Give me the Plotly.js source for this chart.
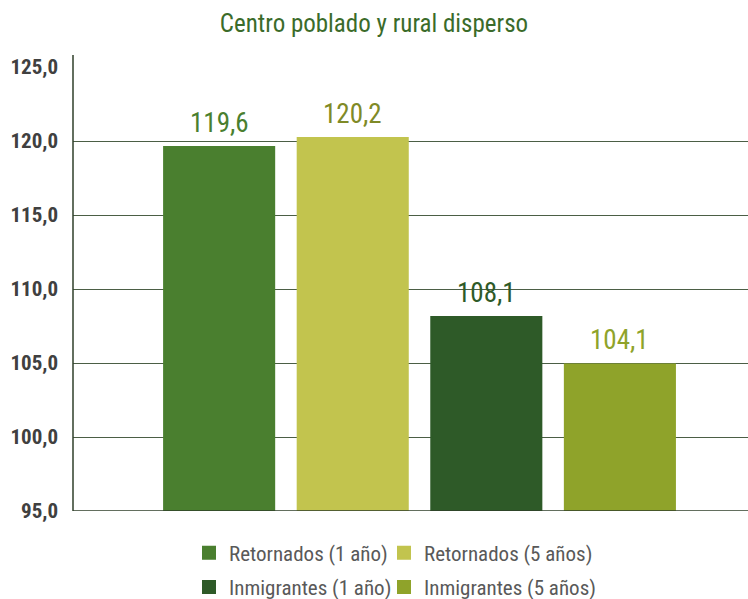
<!DOCTYPE html>
<html>
<head>
<meta charset="utf-8">
<script src="https://cdn.plot.ly/plotly-3.0.1.min.js"></script>
<style>html,body{margin:0;padding:0;background:#fff;}#chart{width:748px;height:599px;}</style>
</head>
<body>
<div id="chart"></div>
<script>
var seriesNames = ["Retornados (1 año)", "Retornados (5 años)", "Inmigrantes (1 año)", "Inmigrantes (5 años)"];
var categories = ["c1", "c2", "c3", "c4"];
var values = [119.6, 120.2, 108.1, 104.9];
var valueLabels = ["119,6", "120,2", "108,1", "104,1"];
var barColors = ["#4a7f2f", "#c2c44e", "#2e5a28", "#8fa32a"];
var labelColors = ["#4a7f2f", "#7f8a27", "#2e5a28", "#8fa32a"];
var legendColumn = ["legend", "legend2", "legend", "legend2"];
var yTicks = [95, 100, 105, 110, 115, 120, 125];

var FONT = "'Roboto Condensed', 'Liberation Sans Narrow', 'DejaVu Sans Condensed', 'Arial Narrow', sans-serif";

var traces = seriesNames.map(function (name, i) {
  return {
    type: "bar",
    name: name,
    x: [categories[i]],
    y: [values[i]],
    cliponaxis: true,
    marker: {color: barColors[i], line: {color: barColors[i], width: 2}},
    legend: legendColumn[i],
    legendgroup: "g" + i,
    hoverinfo: "skip"
  };
});

var annotations = categories.map(function (c, i) {
  return {
    x: c, y: values[i], xref: "x", yref: "y",
    text: valueLabels[i],
    showarrow: false,
    xanchor: "center", yanchor: "bottom",
    yshift: 6,
    font: {family: FONT, size: 27, color: labelColors[i]}
  };
});

function legendBox(xpx) {
  return {
    orientation: "v",
    traceorder: "grouped",
    tracegroupgap: 4,
    xref: "container", x: xpx / 748, xanchor: "left",
    yref: "container", y: (599 - 570) / 599, yanchor: "middle",
    font: {family: FONT, size: 21, color: "#595959"},
    bgcolor: "rgba(0,0,0,0)"
  };
}

var layout = {
  width: 748,
  height: 599,
  margin: {l: 73, r: 0, t: 67, b: 88, autoexpand: false},
  paper_bgcolor: "#ffffff",
  plot_bgcolor: "#ffffff",
  separators: ",.",
  barmode: "overlay",
  bargap: 0.176,
  showlegend: true,
  title: {
    text: "Centro poblado y rural disperso",
    font: {family: FONT, size: 25, color: "#3b6b2a"},
    x: 0.5, xref: "container", xanchor: "center",
    y: 1 - 23 / 599, yref: "container", yanchor: "middle"
  },
  xaxis: {
    type: "category",
    range: [-1.094, 3.959],
    showticklabels: false,
    showgrid: false,
    zeroline: false,
    showline: false,
    ticks: ""
  },
  yaxis: {
    range: [95, 125],
    tickvals: yTicks,
    tickformat: ".1f",
    tickfont: {family: FONT, size: 21, color: "#404040", weight: "bold"},
    showgrid: true,
    gridcolor: "#4b5e45",
    gridwidth: 1,
    zeroline: false,
    showline: false,
    ticks: "",
    ticklabelstandoff: 14
  },
  legend: legendBox(189),
  legend2: legendBox(384),
  annotations: annotations,
  shapes: [
    {type: "line", xref: "paper", yref: "y", x0: 0, x1: 1, y0: 95, y1: 95,
     line: {color: "#2f3f2a", width: 1.5}},
    {type: "line", xref: "paper", yref: "paper", x0: 0, x1: 0, y0: 0, y1: 1 + 12 / 444,
     line: {color: "#2f3f2a", width: 1.5}}
  ]
};

Plotly.newPlot("chart", traces, layout, {displayModeBar: false, staticPlot: true});
</script>
</body>
</html>
